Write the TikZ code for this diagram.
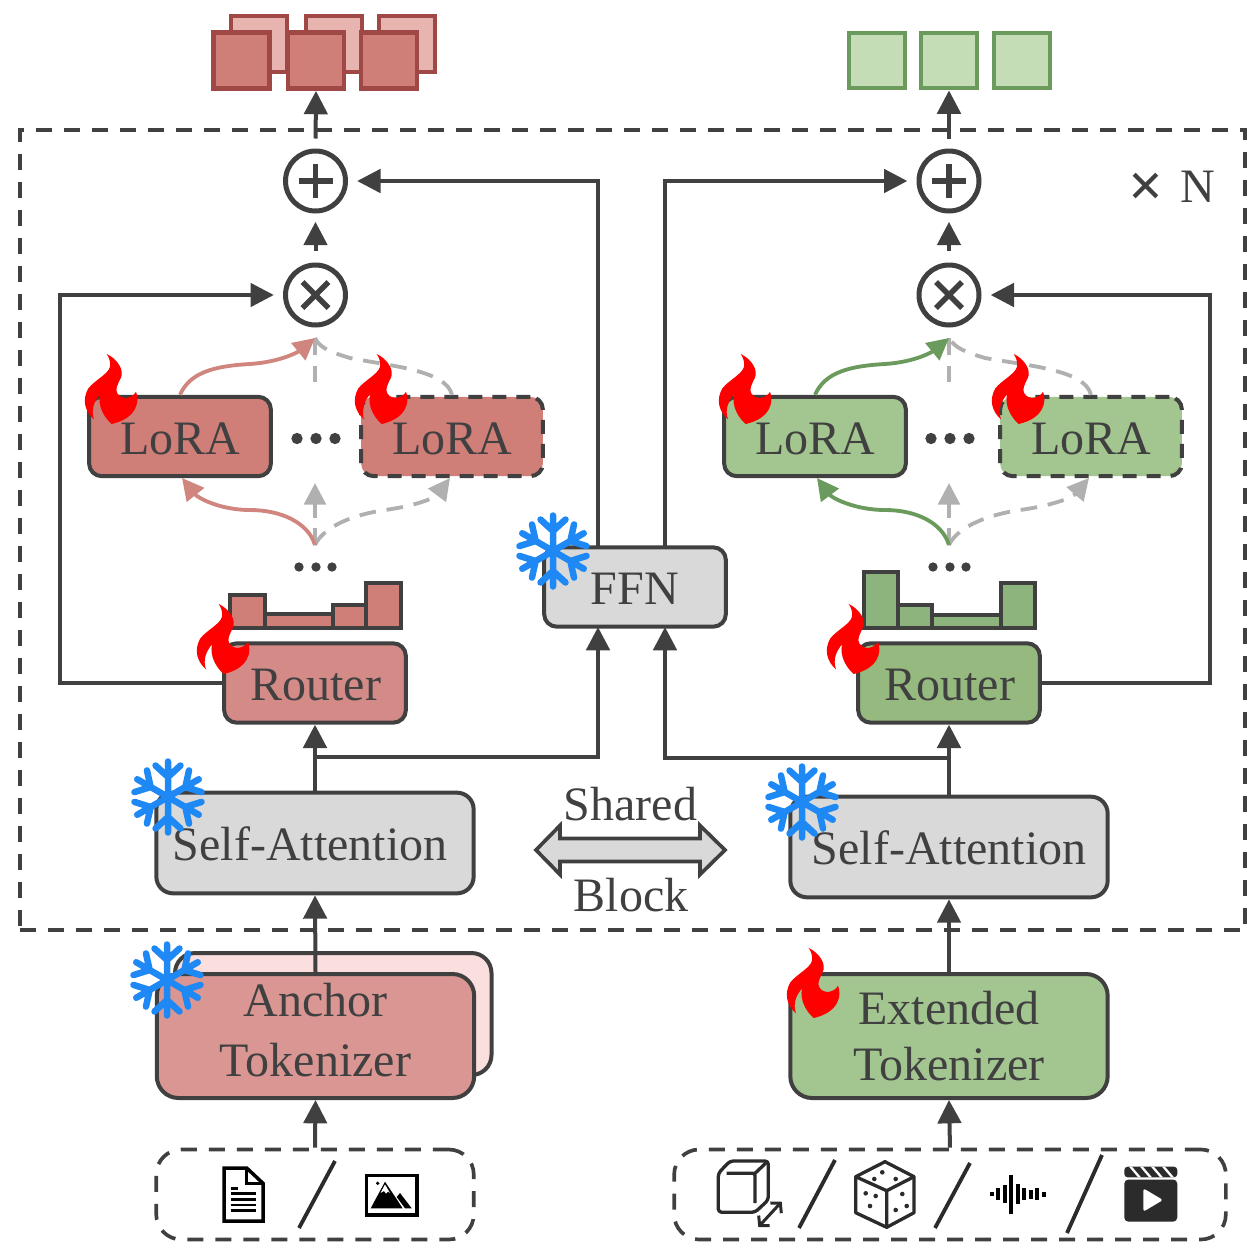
\documentclass[tikz,border=0pt]{standalone}
\usepackage{fontspec}
\setmainfont{Liberation Serif}
\usetikzlibrary{arrows.meta,calc}
\definecolor{ln}{HTML}{404040}
\definecolor{redA}{HTML}{CF7F78}
\definecolor{redB}{HTML}{D48B88}
\definecolor{redC}{HTML}{D99692}
\definecolor{redD}{HTML}{FBDEDE}
\definecolor{redE}{HTML}{A04846}
\definecolor{redF}{HTML}{E8B4B0}
\definecolor{redG}{HTML}{D0867E}
\definecolor{greenA}{HTML}{A3C590}
\definecolor{greenB}{HTML}{95B97F}
\definecolor{greenC}{HTML}{8DB47C}
\definecolor{greenD}{HTML}{C5DDB7}
\definecolor{greenE}{HTML}{6A9A5C}
\definecolor{grayA}{HTML}{D9D9D9}
\definecolor{grayB}{HTML}{B0B0B0}
\definecolor{iconc}{HTML}{2B2B2B}
\definecolor{flakec}{HTML}{1E88F5}
\tikzset{
  tipm/.tip={Triangle[length=14pt,width=14pt]},
  tips/.tip={Triangle[length=13pt,width=13pt]},
  box/.style={draw=ln,line width=2.4pt,rounded corners=7.5pt,text=ln,font=\fontsize{28.8}{36}\selectfont,align=center,inner sep=0pt,minimum width=109pt,minimum height=47.6pt,text height=21pt,text depth=0pt},
  widebox/.style={box,minimum width=190.4pt,minimum height=60.4pt,rounded corners=10pt},
  tallbox/.style={widebox,minimum height=74.4pt,rounded corners=13pt,text height=,text depth=},
  dashb/.style={dash pattern=on 8.4pt off 6pt},
  inbox/.style={draw=ln,line width=2.2pt,rounded corners=15pt,dash pattern=on 9.6pt off 7.2pt,inner sep=0pt},
  opc/.style={circle,draw=ln,line width=3pt,minimum size=36pt,inner sep=0pt},
  opl/.style={draw=ln,line width=3.2pt},
  arr/.style={draw=ln,line width=2.4pt,-{tipm}},
  redc/.style={draw=redG,line width=2.3pt,-{tips}},
  greenc/.style={draw=greenE,line width=2.3pt,-{tips[fill=greenE]}},
  grayc/.style={draw=grayB,line width=2.3pt,dash pattern=on 10pt off 6.5pt,-{tips}},
  rsq/.style={draw=redE,line width=2.7pt,inner sep=0pt,minimum size=33.8pt},
  gsq/.style={draw=greenE,fill=greenD,line width=2.5pt,inner sep=0pt,minimum size=33.4pt},
  dotn/.style={circle,fill=ln,inner sep=0pt},
  lbl/.style={text=ln,font=\fontsize{28.8}{36}\selectfont,inner sep=0pt},
  slashl/.style={draw=iconc,line width=2.3pt},
  icon/.style={draw=iconc,line width=2pt,line join=round},
  hist/.style={draw=ln,line width=2pt},
}
\newcommand{\flameat}[2]{%
  \fill[red,shift={(#1,#2)},x=0.2pt,y=-0.2pt] (80,12)
   .. controls (110,25) and (135,60) .. (122,85)
   .. controls (112,105) and (105,118) .. (112,130)
   .. controls (125,152) and (158,145) .. (168,125)
   .. controls (180,155) and (170,205) .. (95,222)
   .. controls (75,205) and (52,170) .. (60,133)
   .. controls (42,155) and (32,180) .. (42,208)
   .. controls (15,185) and (5,150) .. (25,115)
   .. controls (45,90) and (85,72) .. (90,50)
   .. controls (92,38) and (88,22) .. (80,12) -- cycle;}
\newcommand{\flakeat}[2]{%
  \begin{scope}[shift={(#1,#2)}]
  \foreach \a in {30,90,...,330}{
    \draw[flakec,line width=3.9pt,line cap=round,rotate=\a]
      (0,0) -- (35.5,0) (20,0) -- (31.5,12.5) (20,0) -- (31.5,-12.5);
  }
  \end{scope}}
\begin{document}
\begin{tikzpicture}[x=0.6pt,y=-0.6pt]
\useasboundingbox (0,0) rectangle (1259,1254);
% outer dashed block
\node[draw=ln,line width=2.4pt,dash pattern=on 9.6pt off 7.2pt,inner sep=0pt,minimum width=735.4pt,minimum height=480.4pt] (blk) at (632.5,530) {};
% output squares
\node[rsq,fill=redF] (rb1) at (259,44) {};
\node[rsq,fill=redF] (rb2) at (334,44) {};
\node[rsq,fill=redF] (rb3) at (407,44) {};
\node[rsq,fill=redA] (rf1) at (241.5,60.5) {};
\node[rsq,fill=redA] (rf2) at (316,60.5) {};
\node[rsq,fill=redA] (rf3) at (389,60.5) {};
\node[gsq] (gs1) at (877,60.5) {};
\node[gsq] (gs2) at (949,60.5) {};
\node[gsq] (gs3) at (1022,60.5) {};
% operators
\node[opc] (plusL) at (315.5,181) {};
\node[opc] (timesL) at (315.5,295) {};
\node[opc] (plusR) at (949,181) {};
\node[opc] (timesR) at (949,295) {};
\foreach \n in {plusL,plusR}{
  \draw[opl] ($(\n.center)+(-17,0)$) -- ($(\n.center)+(17,0)$);
  \draw[opl] ($(\n.center)+(0,-17)$) -- ($(\n.center)+(0,17)$);
}
\foreach \n in {timesL,timesR}{
  \draw[opl] ($(\n.center)+(-13,-13)$) -- ($(\n.center)+(13,13)$);
  \draw[opl] ($(\n.center)+(-13,13)$) -- ($(\n.center)+(13,-13)$);
}
\node[lbl] (nlab) at (1171.5,188.5) {{\fontsize{37}{37}\selectfont\bfseries\raisebox{-2.2pt}{×}}\kern10pt N};
% LoRA boxes
\node[box,fill=redA] (loL1) at (180,436.5) {LoRA};
\node[box,fill=redA,dashb] (loL2) at (452,436.5) {LoRA};
\node[box,fill=greenA] (loR1) at (815,436.5) {LoRA};
\node[box,fill=greenA,dashb] (loR2) at (1091,436.5) {LoRA};
% routers, FFN
\node[box,fill=redB] (rtL) at (315,683) {\kern1pt Router};
\node[box,fill=greenB] (rtR) at (949,683) {\kern1pt Router};
\node[box,fill=grayA] (ffn) at (635,587) {FFN};
% self attention
\node[widebox,fill=grayA] (saL) at (315,843) {\kern-6pt Self-Attention};
\node[widebox,fill=grayA] (saR) at (949,847) {Self-Attention};
% tokenizers
\draw[draw=ln,fill=redD,line width=2.4pt,rounded corners=12pt] (175,953) rectangle (491.5,1075);
\node[tallbox,fill=redC] (anc) at (315.5,1036) {Anchor\\[0pt]Tokenizer\rule[-7.2pt]{0pt}{0pt}};
\node[tallbox,fill=greenA,font=\fontsize{28.8}{34}\selectfont] (ext) at (949,1036) {Extended\\[0pt]Tokenizer};
% input boxes
\node[inbox,minimum width=190.5pt,minimum height=54pt] (inL) at (315,1194.5) {};
\node[inbox,minimum width=331pt,minimum height=54pt] (inR) at (950,1194.5) {};
% named ends
\coordinate (forkL) at (315,757);
\coordinate (forkR) at (949,758);
\coordinate (ffnBL) at (598,627);
\coordinate (ffnBR) at (665,627);
\coordinate (ffnTL) at (598,547);
\coordinate (ffnTR) at (665,547);
\coordinate (loopL) at (60,295);
\coordinate (loopR) at (1210,295);
\coordinate (mixL) at (315,338);
\coordinate (mixR) at (949,338);
\coordinate (srcL) at (315,545);
\coordinate (srcR) at (949,545);
\coordinate (vtL) at (315,392);
\coordinate (vtR) at (949,392);
\coordinate (vbL) at (315,483);
\coordinate (vbR) at (949,483);
\coordinate (a1b) at (182,478);
\coordinate (a2b) at (450,478);
\coordinate (b1b) at (817,478);
\coordinate (b2b) at (1089,478);
% main connectors
\draw[arr] (inL.north) -- (anc.south);
\draw[arr] (inR.north) -- (ext.south);
\draw[arr] (anc.north) -- (saL.south);
\draw[arr] (ext.north) -- (saR.south);
\draw[arr] (saL.north) -- (rtL.south);
\draw[arr] (saR.north) -- (rtR.south);
\draw[arr] (forkL) -| (ffnBL);
\draw[arr] (forkR) -| (ffnBR);
\draw[arr,shorten >=5.5pt] (ffnTL) |- (plusL.east);
\draw[arr,shorten >=5.5pt] (ffnTR) |- (plusR.west);
\draw[arr,shorten >=5.5pt] (rtL.west) -| (loopL) -- (timesL.west);
\draw[arr,shorten >=5.5pt] (rtR.east) -| (loopR) -- (timesR.east);
\draw[arr,shorten >=5pt,shorten <=7pt] (timesL.north) -- (plusL.south);
\draw[arr,shorten >=5pt,shorten <=7pt] (timesR.north) -- (plusR.south);
\draw[arr,shorten <=6pt] (plusL.north) -- (rf2.south);
\draw[arr,shorten <=6pt] (plusR.north) -- (gs2.south);
% gray dashed alternatives
\draw[grayc,-] (loL2.north) .. controls (446,370) and (390,366) .. (350,358) .. controls (330,352) and (320,348) .. (mixL);
\draw[grayc,-] (mixL) -- (vtL);
\draw[grayc] (srcL) -- (vbL);
\draw[grayc] (srcL) .. controls (322,530) and (345,516) .. (385,510) .. controls (415,506) and (435,498) .. (a2b);
\draw[grayc,-] (loR2.north) .. controls (1085,370) and (1030,366) .. (985,358) .. controls (965,352) and (955,348) .. (mixR);
\draw[grayc,-] (mixR) -- (vtR);
\draw[grayc] (srcR) -- (vbR);
\draw[grayc] (srcR) .. controls (956,530) and (980,516) .. (1020,510) .. controls (1050,506) and (1072,498) .. (b2b);
% coloured selected paths
\draw[redc] (loL1.north) .. controls (190,372) and (215,366) .. (250,364) .. controls (280,362) and (298,352) .. (mixL);
\draw[redc] (srcL) .. controls (308,522) and (280,510) .. (250,510) .. controls (220,510) and (198,498) .. (a1b);
\draw[greenc] (loR1.north) .. controls (825,372) and (850,366) .. (885,364) .. controls (915,362) and (932,352) .. (mixR);
\draw[greenc] (srcR) .. controls (942,522) and (915,510) .. (885,510) .. controls (855,510) and (832,498) .. (b1b);
% dots
\foreach \n/\x in {da1/297,da2/316,da3/335,db1/931,db2/950,db3/969}{
  \node[dotn,minimum size=6.8pt] (\n) at (\x,438.5) {};}
\foreach \n/\x in {dc1/299,dc2/316,dc3/332,dd1/933,dd2/950,dd3/966}{
  \node[dotn,minimum size=5.6pt] (\n) at (\x,567) {};}
% histograms
\draw[hist,fill=redA] (230,595) rectangle (265,628);
\draw[hist,fill=redA] (265,614) rectangle (333,628);
\draw[hist,fill=redA] (333,605) rectangle (366,628);
\draw[hist,fill=redA] (366,583) rectangle (401,628);
\draw[hist,fill=greenC] (864,572) rectangle (898,628);
\draw[hist,fill=greenC] (898,605) rectangle (932,628);
\draw[hist,fill=greenC] (932,615) rectangle (1001,628);
\draw[hist,fill=greenC] (1001,583) rectangle (1035,628);
% shared block arrow
\draw[ln,fill=grayA,line width=2.2pt,line join=miter] (536,850) -- (560,825.5) -- (560,838.5) -- (700,838.5) -- (700,825.5) -- (725,850) -- (700,874.5) -- (700,861.5) -- (560,861.5) -- (560,874.5) -- cycle;
\node[lbl] (shared) at (630.5,804) {Shared};
\node[lbl] (blocktx) at (631,895) {Block};
% input separators
\draw[slashl] (335,1161) -- (299,1228);
\draw[slashl] (835,1160) -- (799,1228);
\draw[slashl] (970,1163) -- (935,1228);
\draw[slashl] (1102,1155) -- (1067,1233);
% document icon
\draw[black,line width=2.1pt,fill=white,line join=miter] (224,1168) -- (246.7,1168) -- (263,1183.3) -- (263,1221) -- (224,1221) -- cycle;
\draw[black,line width=1.8pt] (246.7,1168) -- (246.7,1183.3) -- (263,1183.3);
\draw[black,line width=1.6pt] (230.7,1188.3) -- (238.3,1188.3);
\foreach \y in {1193.7,1199.3,1205,1210.7}{\draw[black,line width=1.6pt] (230.7,\y) -- (255.7,\y);}
% picture icon
\draw[black,line width=2.3pt] (366.5,1175.5) rectangle (417,1215);
\fill[black] (385,1181.7) -- (370.7,1208.3) -- (402.7,1208.3) -- cycle;
\fill[white] (385,1184.5) -- (380.5,1193) -- (384,1191) -- (386,1193.5) -- (388,1191.5) -- (390,1193) -- cycle;
\fill[black] (400,1193) -- (411.7,1208.3) -- (405,1208.3) -- (396.7,1197) -- cycle;
\fill[black] (377.7,1183.3) circle[radius=1.8];
% cube icon
\draw[icon,rounded corners=2pt] (718.3,1173.3) -- (730,1161) -- (768.3,1161) -- (768.3,1200) -- (755,1212.3) -- (718.3,1212.3) -- cycle;
\draw[icon,rounded corners=1pt] (726.7,1173.3) -- (755,1173.3) -- (755,1203);
\draw[icon] (755,1173.3) -- (768,1161);
\draw[draw=iconc,line width=1.8pt,{Straight Barb[length=4pt,width=9pt]}-{Straight Barb[length=4pt,width=9pt]}] (758.3,1227) -- (781.7,1201.7);
% die icon
\draw[icon] (885,1161.7) -- (914,1176.7) -- (914,1212.7) -- (886.7,1227.3) -- (855.7,1212.7) -- (855.7,1176.7) -- cycle;
\draw[icon] (855.7,1176.7) -- (886.7,1190.7) -- (914,1176.7) (886.7,1190.7) -- (886.7,1227.3);
\foreach \x/\y in {882.3/1172.3,874.3/1179,895.7/1179,865.7/1193.3,875.7/1196,870/1206,902.3/1194,895.7/1210,906.7/1206}{
  \fill[iconc] (\x,\y) circle[radius=2.3];}
% wave icon
\foreach \x/\h in {992/2,998.3/6,1005/9,1011.3/19.3,1018/10,1024.3/6,1030.7/4.3,1037.3/6,1043.7/2.7}{
  \draw[black,line width=2.5pt] (\x,1194.3-\h) -- (\x,1194.3+\h);}
% clapper icon
\fill[iconc,rounded corners=2.5pt] (1124.3,1179.5) -- (1177.3,1179.5) -- (1177.3,1221.7) -- (1124.3,1221.7) -- cycle;
\fill[iconc,rounded corners=2pt] (1124.3,1177.3) -- (1124.3,1166.7) -- (1177.3,1166.7) -- (1177.3,1177.3) -- cycle;
\foreach \x in {1129,1140,1151,1162}{
  \fill[white] (\x,1166.7) -- (\x+3,1166.7) -- (\x+12,1177.3) -- (\x+9,1177.3) -- cycle;}
\fill[white,rounded corners=1.5pt] (1143.3,1188.3) -- (1163,1200) -- (1143.3,1211.7) -- cycle;
% flames
\flameat{80}{350}
\flameat{350}{350}
\flameat{714}{350}
\flameat{987}{350}
\flameat{192}{600}
\flameat{822}{600}
\flameat{782}{944}
% snowflakes
\flakeat{553}{551}
\flakeat{168}{797}
\flakeat{802}{802}
\flakeat{167}{980}
\end{tikzpicture}
\end{document}
